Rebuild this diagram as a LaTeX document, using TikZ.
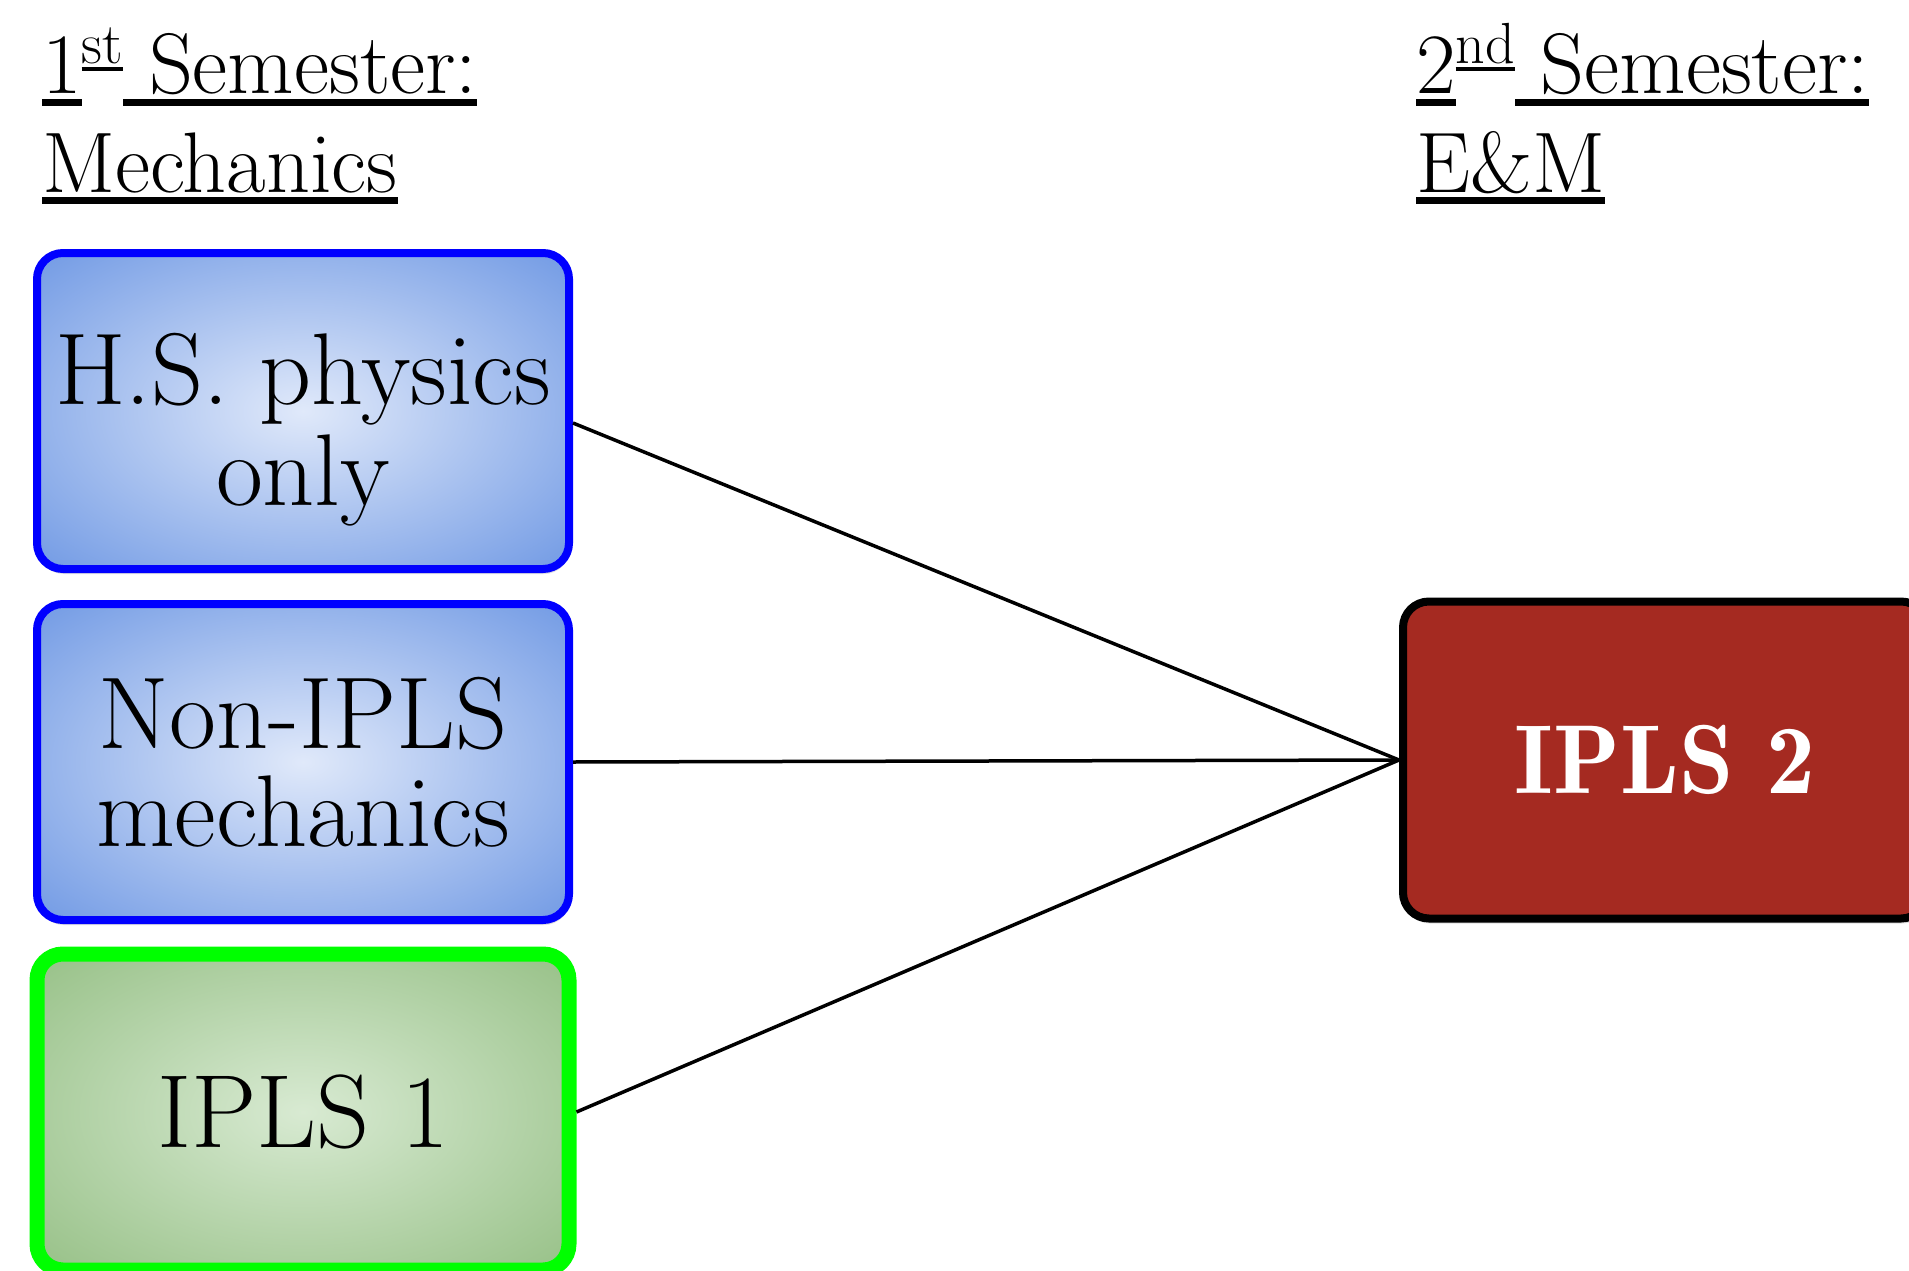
\documentclass[tikz,border=0pt]{standalone}
\usetikzlibrary{shadows}
\definecolor{bluein}{RGB}{224,233,250}
\definecolor{blueout}{RGB}{112,153,228}
\definecolor{greenin}{RGB}{216,234,210}
\definecolor{greenout}{RGB}{150,192,134}
\definecolor{pureblue}{RGB}{0,0,255}
\definecolor{puregreen}{RGB}{0,255,0}
\definecolor{brickred}{RGB}{165,42,33}
\pgfdeclareradialshading{blueglow}{\pgfpoint{0bp}{0bp}}{color(0bp)=(bluein); color(36bp)=(blueout); color(50bp)=(blueout)}
\pgfdeclareradialshading{greenglow}{\pgfpoint{0bp}{0bp}}{color(0bp)=(greenin); color(36bp)=(greenout); color(50bp)=(greenout)}
\newcommand\myul[1]{\setbox0\hbox{#1}\rlap{\rule[-0.145em]{\wd0}{0.085em}}\box0}
\newcommand\mysup[1]{\raisebox{0.36em}{\fontsize{58}{58}\selectfont\myul{#1}}}
\tikzset{
  titletxt/.style={inner sep=0pt, anchor=base west, font=\fontsize{86}{98}\selectfont},
  boxbase/.style={rectangle, rounded corners=26pt, minimum width=532pt, minimum height=316pt,
    align=center, inner sep=0pt, font=\fontsize{102}{98}\selectfont,
    drop shadow={opacity=0.25, shadow xshift=1pt, shadow yshift=-5pt}},
  bluebox/.style={boxbase, draw=pureblue, line width=8pt, shade, shading=blueglow},
  greenbox/.style={boxbase, draw=puregreen, line width=15pt, shade, shading=greenglow, font=\fontsize{104}{98}\selectfont},
  redbox/.style={boxbase, draw=black, line width=8pt, fill=brickred, text=white, minimum width=524pt, minimum height=317pt, font=\fontsize{98}{98}\fontseries{b}\selectfont},
  link/.style={draw=black, line width=3.5pt}
}
\begin{document}
\begin{tikzpicture}[x=1pt,y=-1pt]
\useasboundingbox (0,0) rectangle (1909,1271);
\clip (0,0) rectangle (1909,1271);
\fill[white] (0,0) rectangle (1909,1271);
\node[titletxt] (t1a) at (42,94) {\myul{1}\mysup{st}\myul{\ Semester:}};
\node[titletxt] (t1b) at (42,192) {\myul{Mechanics}};
\node[titletxt] (t2a) at (1416,94) {\myul{2}\mysup{nd}\myul{\ Semester:}};
\node[titletxt] (t2b) at (1416,192) {\myul{E\&M}};
\node[bluebox] (b1) at (303,411) {\raisebox{-23pt}[\height][\depth]{\begin{tabular}{@{}c@{}}H.S. physics\\only\end{tabular}}};
\node[bluebox] (b2) at (303,762) {Non-IPLS\\mechanics};
\node[greenbox] (b3) at (303,1112) {IPLS 1};
\node[redbox] (b4) at (1665,760) {IPLS 2};
\draw[link] ([yshift=-12pt]b1.east) -- (b4.west);
\draw[link] (b2.east) -- (b4.west);
\draw[link] (b3.east) -- (b4.west);
\end{tikzpicture}
\end{document}
